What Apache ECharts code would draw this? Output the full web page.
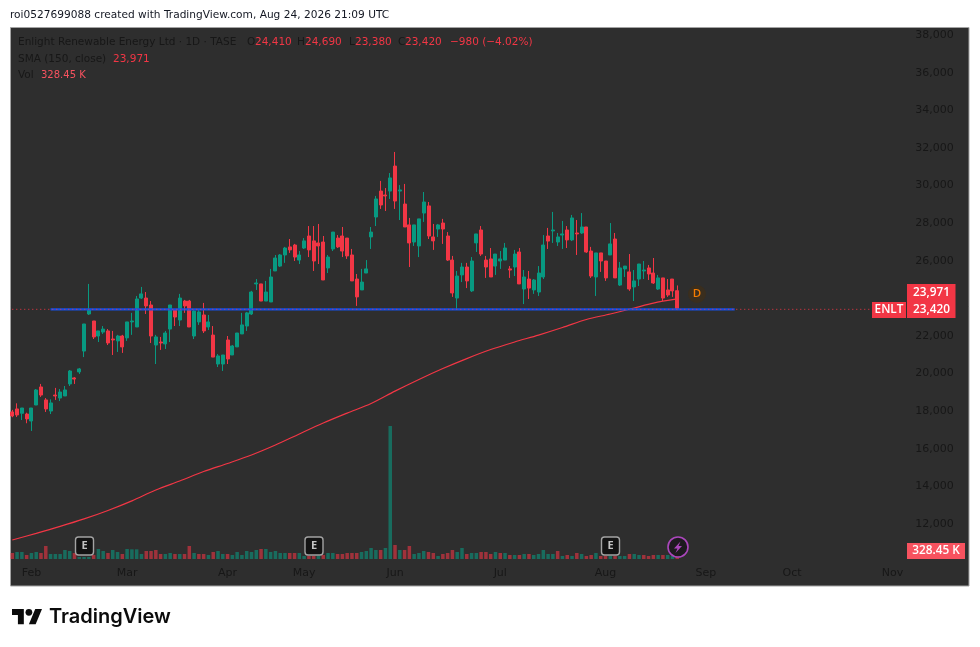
<!DOCTYPE html>
<html><head><meta charset="utf-8">
<style>html,body{margin:0;padding:0;background:#fff}#c{width:980px;height:647px}</style>
<script src="https://cdn.jsdelivr.net/npm/echarts@6/dist/echarts.min.js"></script>
</head><body><div id="c"></div>
<script>
const opens=[17960,18120,17890,17850,17480,18330,19290,18600,18010,18860,18700,18810,19450,19770,20090,21200,23170,22800,22000,22210,22270,21840,21740,22000,21900,22750,22480,24020,24020,23650,21520,21680,21580,22370,23380,22850,23860,23860,22000,22750,23120,22480,22050,20510,20510,21790,20990,21420,22110,22530,
23170,24770,24770,23860,23810,25460,25720,26310,26740,26840,26040,26680,27320,27060,26950,27000,25620,26630,27210,27320,27210,26310,25030,24450,25350,27270,28330,29710,29500,29710,31040,29710,29020,27910,27000,26790,28540,28920,27270,27690,28010,27320,26040,24020,25250,25670,24400,26950,
27640,26040,26100,25720,25990,26040,25570,25670,26470,24500,25030,24450,24340,25140,27320,27590,27000,27370,27640,27110,27480,27480,27800,26520,25140,26420,25990,26310,27160,24710,25570,25410,24610,25030,25460,25620,25350,24500,25090,24450,25030,24410];
const highs=[18070,18420,18170,17920,18170,19180,19450,18700,18630,19240,19180,19340,20190,19820,20300,22640,24770,22800,22270,22530,22370,22270,22060,22060,22750,23230,24130,24610,24340,23860,22060,21950,22270,23650,23440,24240,23920,23920,23380,23380,23760,23120,22530,21040,20990,22000,21520,22160,23230,23280,
24400,25030,24770,24930,25570,26310,26360,26740,27160,26900,26520,27210,27850,27850,27960,27320,26310,27530,27370,27800,27210,26630,25300,25570,26040,27800,29450,30250,29870,30670,31790,30030,30090,28280,27910,28230,29660,29130,27960,27960,28230,27530,26260,25460,25890,25890,26200,27430,
27850,26260,26680,26360,26520,26950,25720,26580,26680,25510,25460,25030,25720,27370,27750,28600,27480,28120,27850,28440,28170,28540,27800,26740,26420,26420,25990,28010,27480,25940,25720,26360,25510,25830,25990,25780,26150,25250,25090,25030,25030,24690];
const lows=[17680,17690,17530,17360,16950,18330,18760,17960,17850,18600,18540,18810,19340,19450,19980,20880,23120,21840,21680,22110,21520,20990,21150,21100,21740,22060,22480,23970,23170,21630,20510,21260,21310,21680,22530,22530,23230,22480,21840,22590,22160,22320,20880,20350,20140,20510,20990,21420,22110,22270,
23120,24450,23860,23860,23810,25460,25670,25890,26420,25990,25830,26630,26200,25460,25830,24980,25350,26520,26680,26200,26100,24930,23600,24450,25350,26630,27850,28760,28650,29290,28760,28170,27800,25670,26790,26200,28070,27160,26580,27270,26900,25990,24080,23440,24870,24550,24340,26470,
26260,25090,25140,25250,25570,26040,25090,25190,24770,23700,23970,24240,24130,25030,26630,26950,26790,26630,26680,27050,26310,27430,26420,25090,24130,25410,24930,26310,25090,24660,25140,24400,23860,24660,25030,24980,24770,24450,23860,24080,24080,23380];
const closes=[17750,17800,18170,17590,18170,19130,18860,18120,18440,18810,19020,19130,20140,19710,20250,22640,23420,21950,22270,22370,21630,21790,22000,21420,22750,22800,23970,24240,23600,22000,21950,21630,22160,23650,23010,24020,23600,22480,23330,23280,22270,22750,20880,20940,20990,20780,21470,22160,22590,23230,
24340,24820,23860,24340,25140,26150,26310,26680,26580,26200,26310,27060,26580,25990,26790,24980,26200,27530,26740,26520,26260,24930,24080,24870,25570,27530,29290,28970,29450,30410,29180,29770,27800,26950,27910,28230,29130,27320,27060,27910,27690,26040,24290,25190,25670,24930,25990,27430,
26360,25670,25140,26360,26100,26680,25510,26360,24770,25140,24550,24980,25350,26840,27050,27640,27270,27430,27110,28280,27430,27800,26470,25190,26420,25990,25090,26900,25090,25620,25720,24500,24930,25830,25510,25300,24820,25090,24020,24180,24400,23420];
const volumes=[246,287,287,164,246,287,246,534,205,205,205,369,328,246,82,82,82,164,410,328,246,369,287,205,410,397,397,205,328,328,369,205,205,246,205,205,205,534,246,205,205,164,287,328,205,205,164,287,
164,328,287,369,410,410,287,328,246,246,246,246,246,123,123,123,123,164,246,246,205,205,246,246,246,287,328,451,369,369,451,5460,575,369,369,534,205,246,328,287,246,123,205,246,369,287,451,
205,246,246,287,287,205,287,246,246,164,164,164,205,205,164,205,369,205,205,328,123,164,123,246,205,123,164,246,123,123,123,123,123,123,205,205,164,164,123,164,164,164,164,123,328];
const smaBars=[1,6,11,16,21,26,31,36,41,46,51,56,61,66,71,76,81,86,91,96,101,106,111,116,121,126,131,135,140];
const smaValues=[11150,11500,11870,12270,12720,13230,13810,14290,14790,15220,15670,16200,16790,17370,17900,18410,19070,19690,20270,20800,21280,21680,22050,22450,22880,23170,23490,23750,23971];
const monthNames=['Feb','Mar','Apr','May','Jun','Jul','Aug','Sep','Oct','Nov'];
const monthBars=[4,24,45,61,80,102,124,145,163,184];
const levelPrice=23420, levelFromBar=8, levelToBar=151;
const barCount=188;

const UP='#089981',DOWN='#f23645',INK='#171717',FONT='"DejaVu Sans"';
const cats=Array.from({length:barCount},(_,i)=>{const k=monthBars.indexOf(i);return k>=0?monthNames[k]:'b'+i;});
const candle=opens.map((o,i)=>[o,closes[i],lows[i],highs[i]]);
const vol=volumes.map((v,i)=>({value:v,itemStyle:{color:(i>0&&closes[i]>=closes[i-1])?'rgba(8,153,129,0.58)':'rgba(242,54,69,0.58)'}}));

const t=(text,x,y,fill,size,extra)=>({type:'text',z:20,style:Object.assign({text,x,y,fill,font:`${size||10.5}px ${FONT}`,verticalAlign:'middle',align:'left'},extra||{})});
const box=(x,y,w,h,fill)=>({type:'rect',z:19,shape:{x,y,width:w,height:h},style:{fill}});
const tag={align:'center',font:'600 11.8px "Open Sans"'};
const ebadge=(cx,cy)=>[
 {type:'rect',z:19,shape:{x:cx-9,y:cy-9,width:18,height:18,r:3},style:{fill:'#131313',stroke:'#a3a3a3',lineWidth:1.4}},
 t('E',cx,cy,'#c4c4c4',11,{align:'center',font:'bold 11px "Open Sans"'})];
const LG=10.5;
const graphic=[
 {type:'rect',z:-5,shape:{x:10.5,y:27.5,width:958.5,height:558.5},style:{fill:'#2e2e2e',stroke:'#a3a3a3',lineWidth:1}},
 t('roi0527699088 created with TradingView.com, Aug 24, 2026 21:09 UTC',10,15,'#131722',10.6),
 t('Enlight Renewable Energy Ltd · 1D · TASE',18,42,INK,LG),
 t('O',247,42,INK,LG),t('24,410',255,42,DOWN,LG),
 t('H',297,42,INK,LG),t('24,690',305,42,DOWN,LG),
 t('L',349,42,INK,LG),t('23,380',355,42,DOWN,LG),
 t('C',398,42,INK,LG),t('23,420',405,42,DOWN,LG),
 t('−980 (−4.02%)',450,42,DOWN,LG),
 t('SMA (150, close)',18,59,INK,LG),t('23,971',113,59,DOWN,LG),
 t('Vol',18,75,INK,LG),t('328.45 K',41,75,'#f7525f',10),
 box(907,284,48.5,18,DOWN),t('23,971',931.5,293,'#fff',11.5,tag),
 box(872,302,34,16,DOWN),t('ENLT',889,310,'#fff',11.5,tag),
 box(907,302,48.5,16,DOWN),t('23,420',931.5,310,'#fff',11.5,tag),
 box(907,543,58,16,'#f7525f'),t('328.45 K',936,551,'#fff',11.5,tag),
 {type:'circle',z:19,shape:{cx:697,cy:294,r:9},style:{fill:'#3a2e1e'}},
 t('D',697,294,'#f57c00',11.5,{align:'center',font:'600 11.5px "Open Sans"'}),
 ...ebadge(84.5,546),...ebadge(314,546),...ebadge(610.5,546),
 {type:'circle',z:19,shape:{cx:678,cy:547,r:10},style:{fill:'#1d1a1f',stroke:'#ab47bc',lineWidth:1.6}},
 {type:'polygon',z:20,shape:{points:[[680.5,541.5],[674,548.5],[677.5,548.5],[675.5,553],[682,546],[678.5,546]]},style:{fill:'#ab47bc'}},
 {type:'polygon',z:20,x:12,y:605.6,scaleX:.845,scaleY:.845,shape:{points:[[14,22],[7,22],[7,11],[0,11],[0,4],[14,4]]},style:{fill:'#0b0b0b'}},
 {type:'polygon',z:20,x:12,y:605.6,scaleX:.845,scaleY:.845,shape:{points:[[28,22],[20,22],[27.5,4],[35.5,4]]},style:{fill:'#0b0b0b'}},
 {type:'circle',z:20,shape:{cx:12+20*.845,cy:605.6+8*.845,r:4*.845},style:{fill:'#0b0b0b'}},
 t('TradingView',49,617,'#0b0b0b',20,{font:'600 20px Inter'})
];

const chart=echarts.init(document.getElementById('c'),null,{renderer:'canvas'});
chart.setOption({
 animation:false,backgroundColor:'#ffffff',
 grid:[{left:9.9,top:27.7,width:899.4,height:533.9},{left:9.9,top:422.6,width:899.4,height:136.4}],
 xAxis:[
  {type:'category',gridIndex:0,data:cats,boundaryGap:true,axisLine:{show:false},axisTick:{show:false},splitLine:{show:false},
   axisLabel:{interval:(i)=>monthBars.includes(i),color:INK,fontFamily:FONT,fontSize:11,margin:6,hideOverlap:false}},
  {type:'category',gridIndex:1,data:cats,boundaryGap:true,axisLine:{show:false},axisTick:{show:false},axisLabel:{show:false},splitLine:{show:false}}],
 yAxis:[
  {type:'value',gridIndex:0,position:'right',min:10000,max:38400,interval:2000,axisLine:{show:false},axisTick:{show:false},splitLine:{show:false},
   axisLabel:{color:INK,fontFamily:FONT,fontSize:11,margin:6,align:'left',
    formatter:v=>(v%2000===0&&v>=12000)?v.toLocaleString('en-US'):''}},
  {type:'value',gridIndex:1,min:0,max:5600,axisLine:{show:false},axisTick:{show:false},axisLabel:{show:false},splitLine:{show:false}}],
 series:[
  {type:'bar',name:'Vol',xAxisIndex:1,yAxisIndex:1,data:vol,barWidth:3.5,z:1},
  {type:'line',name:'SMA',xAxisIndex:0,yAxisIndex:0,data:smaBars.map((b,i)=>[b-1,smaValues[i]]),showSymbol:false,smooth:0.3,lineStyle:{color:DOWN,width:1.2},z:2},
  {type:'candlestick',name:'ENLT',xAxisIndex:0,yAxisIndex:0,data:candle,barWidth:3.5,itemStyle:{color:UP,color0:DOWN,borderColor:UP,borderColor0:DOWN,borderWidth:1},z:3},
  {type:'line',name:'Level',xAxisIndex:0,yAxisIndex:0,data:[[levelFromBar,levelPrice],[levelToBar,levelPrice]],showSymbol:false,lineStyle:{color:'#1450e6',width:2.2},z:4},
  {type:'line',name:'Last',xAxisIndex:0,yAxisIndex:0,data:[[0,levelPrice],[barCount-1,levelPrice]],showSymbol:false,lineStyle:{color:DOWN,width:1,type:[1,3]},z:5}
 ],
 graphic:{elements:graphic}
});
</script></body></html>
